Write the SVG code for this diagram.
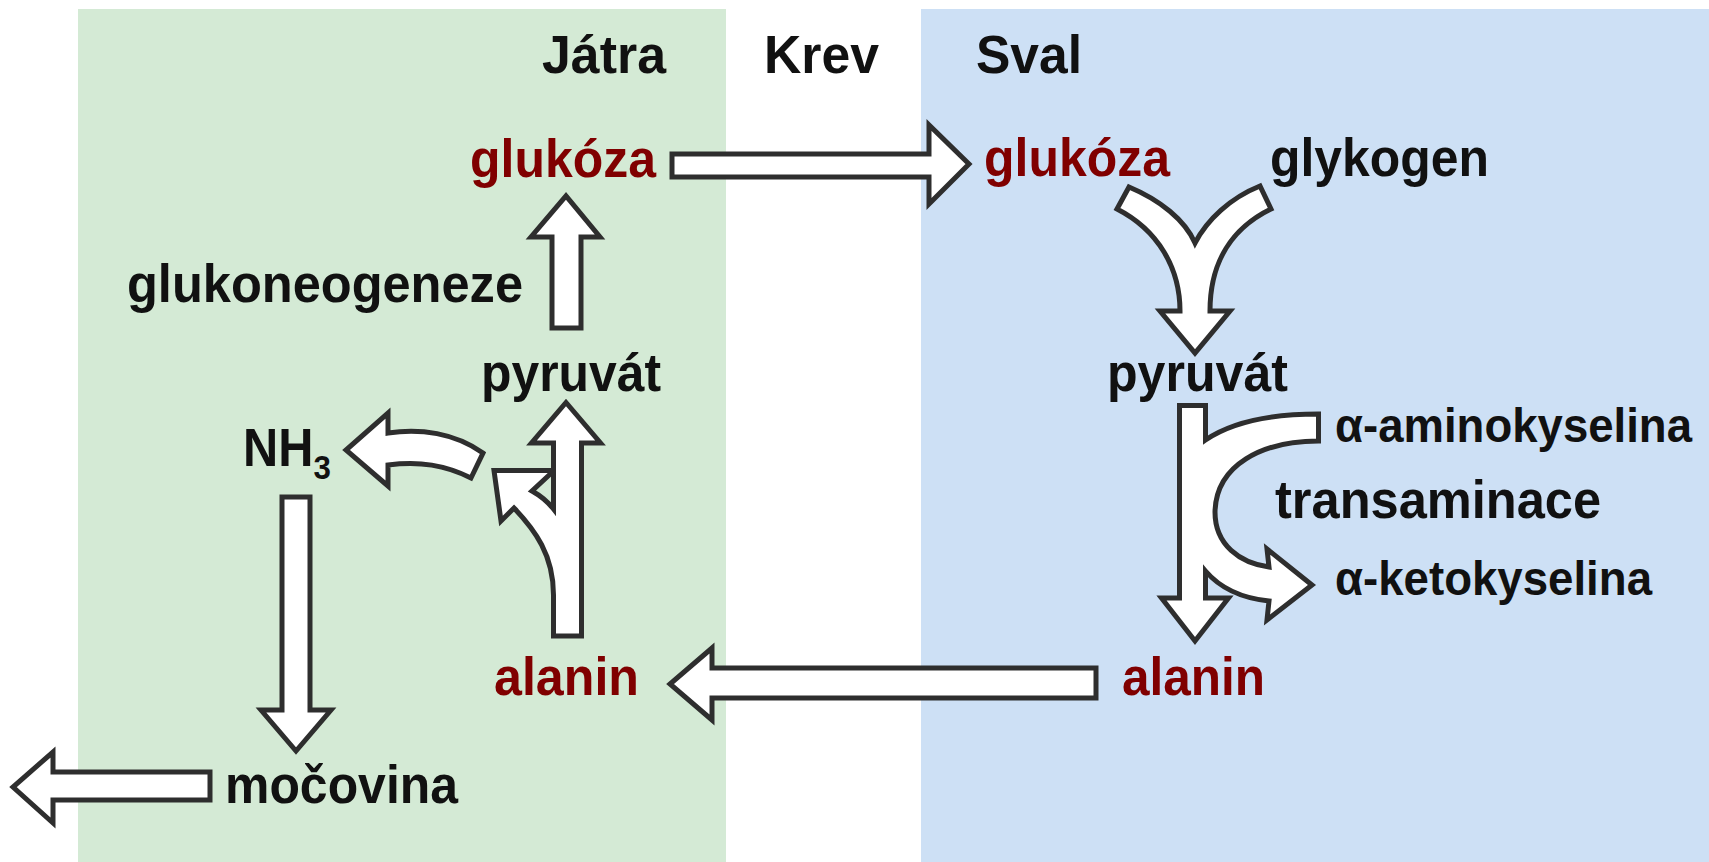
<svg xmlns="http://www.w3.org/2000/svg" width="1709" height="862" viewBox="0 0 1709 862">
<style>
.t{font-family:"Liberation Sans",Arial,sans-serif;font-weight:bold;font-size:53px;fill:#111}
.r{fill:#800000}
.s{font-size:48px}
.a{fill:#fff;stroke:#2e2e2e;stroke-width:5;stroke-linejoin:miter}
</style>
<rect width="1709" height="862" fill="#fff"/>
<g id="panels">
<rect x="78" y="9" width="648" height="853" fill="#d4ead5"/>
<rect x="921" y="9" width="788" height="853" fill="#cde0f5"/>
</g>
<g id="connectors">
<path class="a" d="M672,154 L929,154 L929,125 L969,164 L929,204 L929,177 L672,177 Z"/>
<path class="a" d="M552,328 L552,237 L531,237 L566,196 L600,237 L581,237 L581,328 Z"/>
<path class="a" d="M553.5,636 L553.5,595 C553.5,555 535,530 514,508 L501,521 L494,470.5 L553.5,470.5 L553.5,443 L531.5,443 L566,402.5 L600.5,443 L581.5,443 L581.5,636 Z"/>
<path class="a" d="M553.5,471 L532,491 C541,496 548,502 553.5,509 Z" style="fill:#d4ead5"/>
<path class="a" d="M388,433 C420,428 455,433 483,453 L471,478 C445,465 420,461 388,465 L388,486 L346,450 L388,413 Z"/>
<path class="a" d="M282,497 L310,497 L310,710 L331,710 L296,751 L261,710 L282,710 Z"/>
<path class="a" d="M210,772 L210,800 L53,800 L53,823 L13,787 L53,752 L53,772 Z"/>
<path class="a" d="M1096,668 L1096,698 L712,698 L712,720 L670,684 L712,648 L712,668 Z"/>
<path class="a" d="M1117,209 L1129,187 C1160,200 1185,220 1195,243 C1207,220 1230,198 1260,186 L1271,209 C1232,228 1210,262 1210,311 L1230,311 L1195,353 L1160,311 L1180,311 C1180,268 1158,230 1117,209 Z"/>
<path class="a" d="M1179.5,405.5 L1205.5,405.5 L1205.5,440 C1235,420 1275,414 1318.5,414 L1318.5,441 C1262,441 1216,465 1215,512 C1215,545 1240,563 1269,567 L1267,549 L1312,585 L1267,620 L1269,601 C1240,598 1220,588 1205.5,571 L1205.5,598 L1228.5,598 L1195,641 L1161.5,598 L1179.5,598 Z"/>
</g>
<g id="n-jatra"><text class="t" x="542" y="73" textLength="124" lengthAdjust="spacingAndGlyphs">Játra</text></g>
<g id="n-krev"><text class="t" x="764" y="73" textLength="115" lengthAdjust="spacingAndGlyphs">Krev</text></g>
<g id="n-sval"><text class="t" x="976" y="73" textLength="106" lengthAdjust="spacingAndGlyphs">Sval</text></g>
<g id="n-glukoza-l"><text class="t r" x="470" y="177" textLength="186" lengthAdjust="spacingAndGlyphs">glukóza</text></g>
<g id="n-glukoza-r"><text class="t r" x="984" y="176" textLength="186" lengthAdjust="spacingAndGlyphs">glukóza</text></g>
<g id="n-glykogen"><text class="t" x="1270" y="176" textLength="219" lengthAdjust="spacingAndGlyphs">glykogen</text></g>
<g id="n-glukoneogeneze"><text class="t" x="127" y="302" textLength="396" lengthAdjust="spacingAndGlyphs">glukoneogeneze</text></g>
<g id="n-pyruvat-l"><text class="t" x="481" y="391" textLength="180" lengthAdjust="spacingAndGlyphs">pyruvát</text></g>
<g id="n-pyruvat-r"><text class="t" x="1107" y="391" textLength="181" lengthAdjust="spacingAndGlyphs">pyruvát</text></g>
<g id="n-nh3"><text class="t" transform="translate(243,466) scale(0.92,1)">NH<tspan dy="13" style="font-size:34px">3</tspan></text></g>
<g id="n-aminokyselina"><text class="t s" x="1335" y="442" textLength="357" lengthAdjust="spacingAndGlyphs">α-aminokyselina</text></g>
<g id="n-transaminace"><text class="t" x="1275" y="518" textLength="326" lengthAdjust="spacingAndGlyphs">transaminace</text></g>
<g id="n-ketokyselina"><text class="t s" x="1335" y="595" textLength="317" lengthAdjust="spacingAndGlyphs">α-ketokyselina</text></g>
<g id="n-alanin-l"><text class="t r" x="494" y="695" textLength="145" lengthAdjust="spacingAndGlyphs">alanin</text></g>
<g id="n-alanin-r"><text class="t r" x="1122" y="695" textLength="143" lengthAdjust="spacingAndGlyphs">alanin</text></g>
<g id="n-mocovina"><text class="t" x="225" y="803" textLength="233" lengthAdjust="spacingAndGlyphs">močovina</text></g>
</svg>
